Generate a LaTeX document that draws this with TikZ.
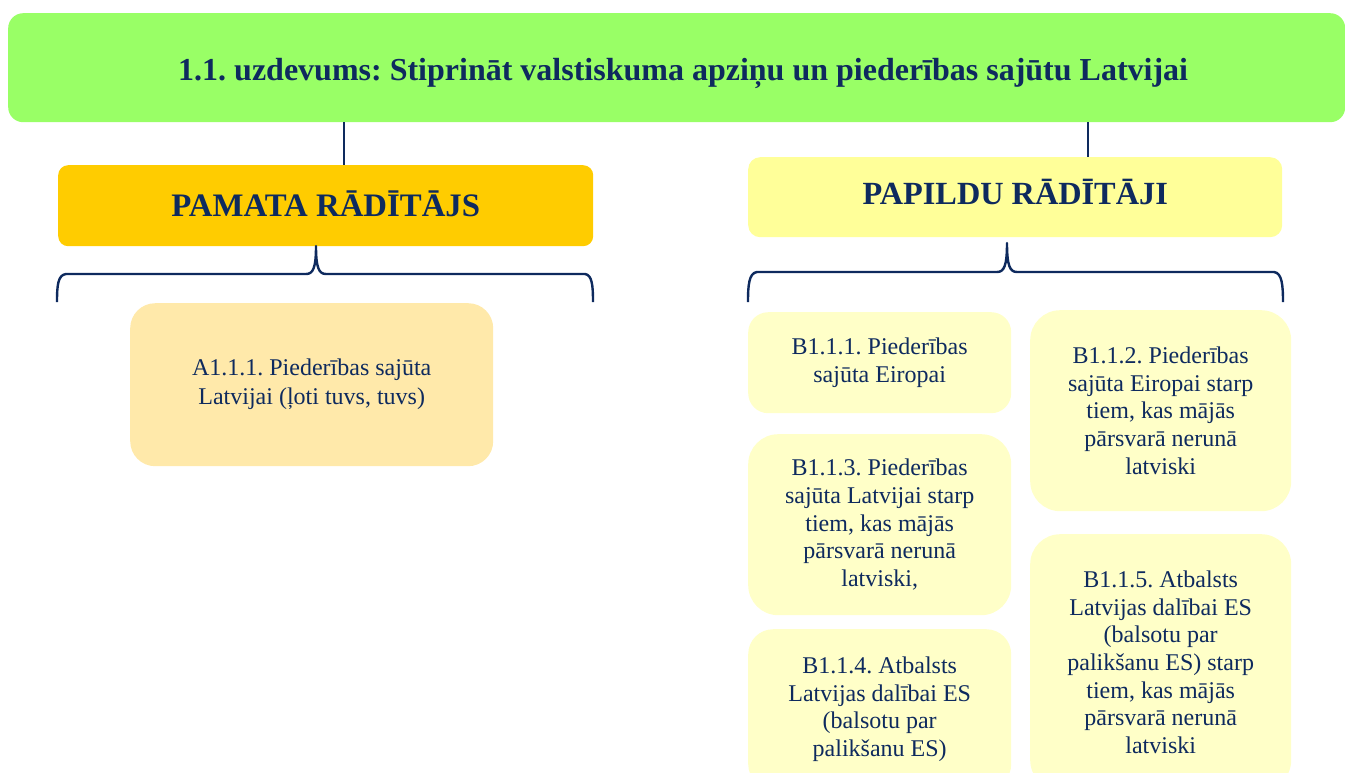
\documentclass[tikz,border=0pt]{standalone}
\usepackage{fontspec}
\setmainfont{Liberation Serif}
\frenchspacing
\definecolor{navy}{HTML}{0E2A5E}
\definecolor{titlegreen}{HTML}{99FF66}
\definecolor{mainorange}{HTML}{FFCC00}
\definecolor{addyellow}{HTML}{FFFF99}
\definecolor{aboxcol}{HTML}{FFE9AA}
\definecolor{bboxcol}{HTML}{FFFFC8}
\newcommand{\shiftv}[2]{\raisebox{#1}[\height][\depth]{#2}}
\begin{document}
\begin{tikzpicture}[x=1pt,y=-1pt,
  box/.style={anchor=north west, inner sep=0pt, text=navy, align=center},
  small/.style={font=\fontsize{24}{27.6}\selectfont\frenchspacing},
  conn/.style={draw=navy, line width=2.4pt},
  brace/.style={draw=navy, line width=2.4pt, line join=round}]
\useasboundingbox (0,0) rectangle (1345,772);

% title
\node[box, fill=titlegreen, rounded corners=15pt, minimum width=1337pt, minimum height=109pt,
      font=\fontsize{32}{36}\bfseries\frenchspacing] (title) at (8,13)
  {\shiftv{-6pt}{\hspace*{13pt}1.1. uzdevums: Stiprināt valstiskuma apziņu un piederības sajūtu Latvijai}};

% headers
\node[box, fill=mainorange, rounded corners=10pt, minimum width=535pt, minimum height=81pt,
      font=\fontsize{32.8}{36}\bfseries] (pamata) at (58,165) {\shiftv{2pt}{PAMATA RĀDĪTĀJS}};
\node[box, fill=addyellow, rounded corners=12pt, minimum width=534pt, minimum height=80pt,
      font=\fontsize{32.3}{36}\bfseries] (papildu) at (748,157) {\shiftv{5pt}{PAPILDU RĀDĪTĀJI}};

\draw[conn] (title.south -| 344,0) -- (pamata.north -| 344,0);
\draw[conn] (title.south -| 1088,0) -- (papildu.north -| 1088,0);

% braces
\coordinate (lb) at (316,246);
\draw[brace] (57,302) .. controls (57,285) and (58,275) .. (66,274) -- (306,274)
  .. controls (313,274) and (316,268) .. (lb)
  .. controls (316,268) and (319,274) .. (326,274) -- (585,274)
  .. controls (592,275) and (593,285) .. (593,302);
\coordinate (rb) at (1007,243);
\draw[brace] (748,302) .. controls (748,285) and (749,273) .. (757,272) -- (997,272)
  .. controls (1004,272) and (1007,266) .. (rb)
  .. controls (1007,266) and (1010,272) .. (1017,272) -- (1274,272)
  .. controls (1282,273) and (1283,285) .. (1283,302);

% A box
\node[box, fill=aboxcol, rounded corners=25pt, minimum width=363pt, minimum height=163pt,
      font=\fontsize{24}{29}\selectfont] (a111) at (130,303)
  {A1.1.1. Piederības sajūta\\Latvijai (ļoti tuvs, tuvs)};

% B boxes
\node[box, small, fill=bboxcol, rounded corners=20pt, minimum width=263pt, minimum height=101pt] (b111) at (748,312)
  {B1.1.1. Piederības\\sajūta Eiropai};
\node[box, small, fill=bboxcol, rounded corners=30pt, minimum width=261pt, minimum height=201pt] (b112) at (1030,310)
  {B1.1.2. Piederības\\sajūta Eiropai starp\\tiem, kas mājās\\pārsvarā nerunā\\latviski};
\node[box, small, fill=bboxcol, rounded corners=30pt, minimum width=263pt, minimum height=181pt] (b113) at (748,434)
  {B1.1.3. Piederības\\sajūta Latvijai starp\\tiem, kas mājās\\pārsvarā nerunā\\latviski,};
\node[box, small, fill=bboxcol, rounded corners=25pt, minimum width=263pt, minimum height=160pt] (b114) at (748,629)
  {B1.1.4. Atbalsts\\Latvijas dalībai ES\\(balsotu par\\palikšanu ES)};
\node[box, small, fill=bboxcol, rounded corners=30pt, minimum width=261pt, minimum height=256pt] (b115) at (1030,534)
  {B1.1.5. Atbalsts\\Latvijas dalībai ES\\(balsotu par\\palikšanu ES) starp\\tiem, kas mājās\\pārsvarā nerunā\\latviski};
\end{tikzpicture}
\end{document}
